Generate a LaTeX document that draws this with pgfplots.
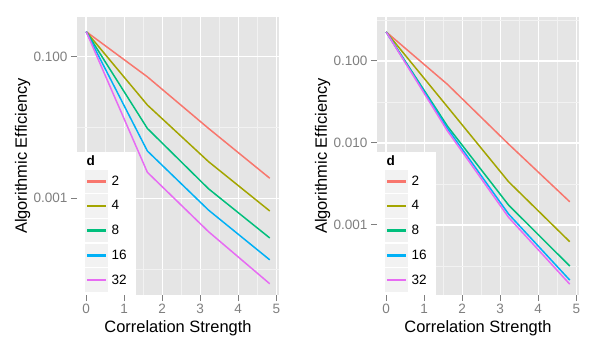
\documentclass[border=0pt]{standalone}
\usepackage{fontspec}
\setmainfont{Liberation Sans}
\usepackage{pgfplots}
\pgfplotsset{compat=1.18}

\definecolor{ggred}{HTML}{F8766D}
\definecolor{ggolive}{HTML}{A3A500}
\definecolor{gggreen}{HTML}{00BF7D}
\definecolor{ggblue}{HTML}{00B0F6}
\definecolor{ggpink}{HTML}{E76BF3}
\definecolor{panelbg}{HTML}{E5E5E5}
\definecolor{minorgrid}{HTML}{F2F2F2}
\definecolor{keybg}{HTML}{F2F2F2}
\definecolor{tickgrey}{HTML}{7F7F7F}

\pgfplotsset{
  ggp/.style={
    width=202bp, height=278bp, scale only axis,
    xmin=-0.2415, xmax=5.0715,
    axis background/.style={fill=panelbg},
    axis line style={draw=none},
    grid=both,
    major grid style={white, line width=1.4bp},
    minor grid style={minorgrid, line width=0.7bp},
    xtick={0,1,2,3,4,5},
    xticklabels={0,1,2,3,4,5},
    minor xtick={0.5,1.5,2.5,3.5,4.5},
    tick pos=left,
    tick align=outside,
    major tick length=6bp,
    minor tick length=0bp,
    tick style={tickgrey, line width=1bp},
    ticklabel style={font=\fontsize{13.6}{14}\selectfont, text=tickgrey},
    label style={font=\fontsize{16.5}{18}\selectfont},
    xlabel={Correlation Strength},
    ylabel={Algorithmic Efficiency},
    xlabel style={at={(axis description cs:0.5,-0.119)}, anchor=center},
    ylabel style={at={(axis description cs:-0.269,0.5)}, anchor=center},
    legend style={at={(axis description cs:0,0)}, anchor=south west,
      draw=none, fill=white, inner xsep=8bp, inner ysep=3bp,
      row sep=1.2bp, column sep=3bp,
      font=\fontsize{13.6}{14}\selectfont,
      nodes={inner sep=1bp}},
    legend cell align=left,
    legend image code/.code={
      \fill[keybg] (0bp,-11bp) rectangle (21bp,11bp);
      \fill[##1] (2bp,-0.65bp) rectangle (19bp,0.65bp);
    },
  }
}

\begin{document}
\begin{tikzpicture}
\useasboundingbox (0,0) rectangle (599bp,349bp);

% left panel
\begin{axis}[ggp, ymode=log, at={(77bp,54bp)}, anchor=south west,
  ymin=4.3e-5, ymax=0.364,
  ytick={0.1,0.001}, yticklabels={0.100,0.001},
  minor ytick={0.01,0.0001}]
\addlegendimage{empty legend}
\addlegendentry{\makebox[0pt][l]{\hspace*{-25bp}\textbf{d}}}
\addplot[color=ggred, line width=1.5bp] coordinates {(0,0.226) (1.609,0.052) (3.219,0.0097) (4.828,0.00192)};
\addlegendentry{2}
\addplot[color=ggolive, line width=1.5bp] coordinates {(0,0.226) (1.609,0.0208) (3.219,0.00329) (4.828,0.000662)};
\addlegendentry{4}
\addplot[color=gggreen, line width=1.5bp] coordinates {(0,0.226) (1.609,0.0097) (3.219,0.00136) (4.828,0.000275)};
\addlegendentry{8}
\addplot[color=ggblue, line width=1.5bp] coordinates {(0,0.226) (1.609,0.00466) (3.219,0.00068) (4.828,0.000135)};
\addlegendentry{16}
\addplot[color=ggpink, line width=1.5bp] coordinates {(0,0.226) (1.609,0.00233) (3.219,0.000337) (4.828,0.000062)};
\addlegendentry{32}
\end{axis}

% right panel
\begin{axis}[ggp, ymode=log, at={(377bp,54bp)}, anchor=south west,
  ymin=0.00014, ymax=0.344,
  ytick={0.1,0.01,0.001}, yticklabels={0.100,0.010,0.001},
  minor ytick={0.316,0.0316,0.00316,0.000316}]
\addlegendimage{empty legend}
\addlegendentry{\makebox[0pt][l]{\hspace*{-25bp}\textbf{d}}}
\addplot[color=ggred, line width=1.5bp] coordinates {(0,0.226) (1.609,0.052) (3.219,0.0097) (4.828,0.00192)};
\addlegendentry{2}
\addplot[color=ggolive, line width=1.5bp] coordinates {(0,0.226) (1.609,0.0277) (3.219,0.00337) (4.828,0.000625)};
\addlegendentry{4}
\addplot[color=gggreen, line width=1.5bp] coordinates {(0,0.226) (1.609,0.0161) (3.219,0.00175) (4.828,0.000316)};
\addlegendentry{8}
\addplot[color=ggblue, line width=1.5bp] coordinates {(0,0.226) (1.609,0.0151) (3.219,0.00136) (4.828,0.000213)};
\addlegendentry{16}
\addplot[color=ggpink, line width=1.5bp] coordinates {(0,0.226) (1.609,0.0141) (3.219,0.00124) (4.828,0.00019)};
\addlegendentry{32}
\end{axis}
\end{tikzpicture}
\end{document}
